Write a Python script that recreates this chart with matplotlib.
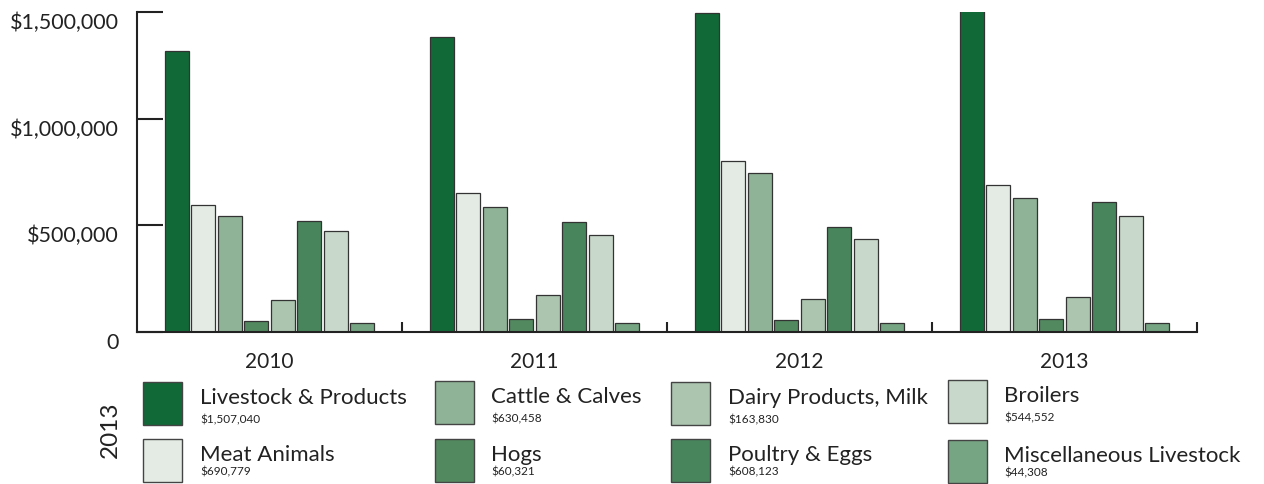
import matplotlib
matplotlib.use("Agg")
import matplotlib.pyplot as plt
import numpy as np
from matplotlib.patches import Rectangle
from matplotlib.transforms import ScaledTranslation

plt.rcParams['font.family'] = ['Lato', 'DejaVu Sans']

years = ['2010', '2011', '2012', '2013']
categories = ['Livestock & Products', 'Meat Animals', 'Cattle & Calves', 'Hogs',
              'Dairy Products, Milk', 'Poultry & Eggs', 'Broilers', 'Miscellaneous Livestock']

livestock = [1316000, 1384000, 1497000, 1507040]
meat_animals = [597000, 650000, 803000, 690779]
cattle = [544000, 587000, 747000, 630458]
hogs = [53000, 61000, 56000, 60321]
dairy = [150000, 175000, 155000, 163830]
poultry = [522000, 517000, 492000, 608123]
broilers = [475000, 453000, 434000, 544552]
misc = [42000, 42000, 42000, 44308]

series = [livestock, meat_animals, cattle, hogs, dairy, poultry, broilers, misc]
colors = ['#116937', '#e4ebe4', '#8fb396', '#52895f', '#abc5af', '#48855c', '#c8d8ca', '#76a583']

yticks = [0, 500000, 1000000, 1500000]
ytick_labels = ['0', '$500,000', '$1,000,000', '$1,500,000']

W, H = 1264, 485
fig = plt.figure(figsize=(W / 100, H / 100), dpi=100)
ax = fig.add_axes([137 / W, 1 - 333 / H, (1197 - 137) / W, (333 - 13) / H])

x = np.arange(len(years))
for i, (vals, col) in enumerate(zip(series, colors)):
    ax.bar(x + (i - 3.5) * 0.1, vals, width=0.09, color=col,
           edgecolor='#333333', linewidth=0.9, zorder=2)

ax.set_xlim(-0.5, 3.5)
ax.set_ylim(0, 1500000)
for s in ['top', 'right']:
    ax.spines[s].set_visible(False)
for s in ['left', 'bottom']:
    ax.spines[s].set_linewidth(1.5)
    ax.spines[s].set_color('#222222')

ax.set_yticks(yticks)
ax.set_yticklabels(ytick_labels)
ax.tick_params(axis='y', direction='in', length=19, width=1.5, color='#222222',
               labelsize=15.5, pad=13, labelcolor='#222222')
for lab in ax.get_yticklabels():
    lab.set_transform(lab.get_transform() + ScaledTranslation(0, -8 / 100, fig.dpi_scale_trans))

ax.set_xticks(x)
ax.set_xticklabels(years)
ax.set_xticks([0.5, 1.5, 2.5, 3.5], minor=True)
ax.tick_params(axis='x', which='major', length=0, labelsize=15, pad=14, labelcolor='#222222')
ax.tick_params(axis='x', which='minor', direction='in', length=7, width=1.5, color='#222222')

# legend block with 2013 values
def fx(px):
    return px / W

def fy(py):
    return 1 - py / H

fig.text(fx(110), fy(430), '2013', rotation=90, ha='center', va='center',
         fontsize=17.5, color='#222222')

box_x = [143, 435, 671, 948]
text_x = [200, 491, 728, 1004]
row_top = [[383, 440], [382, 440], [383, 440], [381, 441]]
for i, (name, vals, col) in enumerate(zip(categories, series, colors)):
    c, r = i // 2, i % 2
    top = row_top[c][r]
    fig.add_artist(Rectangle((fx(box_x[c]), fy(top + 43)), 39 / W, 43 / H,
                             transform=fig.transFigure, facecolor=col,
                             edgecolor='#444444', linewidth=1.0))
    fig.text(fx(text_x[c]), fy(top + 21), name, ha='left', va='baseline',
             fontsize=16, color='#222222')
    fig.text(fx(text_x[c]), fy(top + (37 if r == 0 else 32)), '${:,}'.format(vals[-1]),
             ha='left', va='center', fontsize=8.5, color='#222222')

fig.savefig('out.png', dpi=100)
